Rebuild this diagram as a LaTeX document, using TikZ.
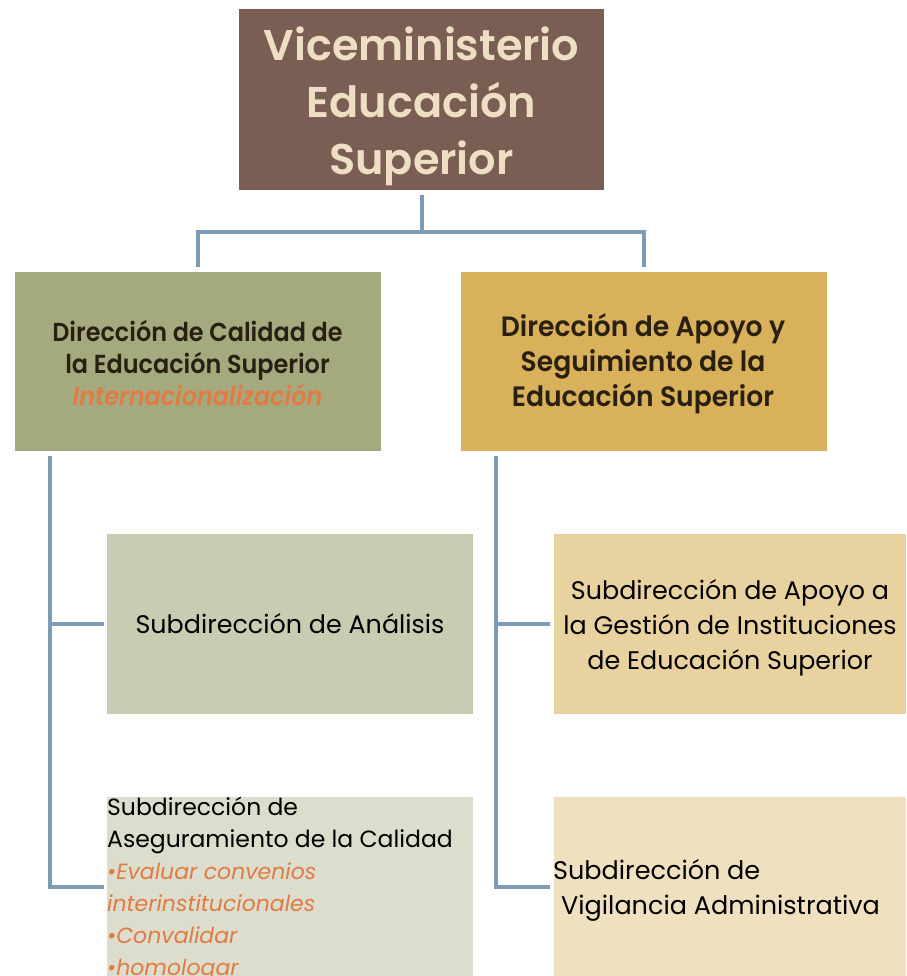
\documentclass[tikz,border=0pt]{standalone}
\usepackage{fontspec}
\setmainfont{Poppins}
\newfontfamily\condboldL[FakeStretch=0.92]{Poppins SemiBold}
\newfontfamily\condboldR[FakeStretch=0.95]{Poppins SemiBold}
\newfontfamily\titlefont{Poppins SemiBold}
\newfontfamily\lightfont{Poppins}
\definecolor{vmfill}{HTML}{7B5E53}
\definecolor{titletxt}{HTML}{EEDFC4}
\definecolor{dcfill}{HTML}{A5AA7E}
\definecolor{dafill}{HTML}{D8B15A}
\definecolor{safill}{HTML}{C9CCB0}
\definecolor{sgfill}{HTML}{DCDDCC}
\definecolor{spfill}{HTML}{E8D3A0}
\definecolor{svfill}{HTML}{EFE1C0}
\definecolor{connc}{HTML}{7E9BB6}
\definecolor{orangetxt}{HTML}{E07B45}
\definecolor{darktxt}{HTML}{2A2012}
\begin{document}
\begin{tikzpicture}[x=1pt,y=-1pt,
  box/.style={draw=none, inner sep=0pt, outer sep=0pt, minimum width=366pt, minimum height=180pt},
  conn/.style={draw=connc, line width=4pt},
  dirtxt/.style={text=darktxt, align=center, font=\condboldL\fontsize{26}{32}\selectfont},
  subtxt/.style={text=black, align=center, font=\lightfont\fontsize{25.4}{35}\selectfont}
]
\useasboundingbox (0,0) rectangle (906,976);
\fill[white] (0,0) rectangle (906,976);

% boxes
\node[box, fill=vmfill, minimum width=365pt, minimum height=181pt] (vm) at (421.5,99.5) {};
\node[box, fill=dcfill, minimum height=179pt] (dc) at (197.5,361.5) {};
\node[box, fill=dafill, minimum height=179pt] (da) at (643.5,361.5) {};
\node[box, fill=safill] (sa) at (290,624) {};
\node[box, fill=sgfill] (sg) at (290,887) {};
\node[box, fill=spfill, minimum width=352pt] (sp) at (730,624) {};
\node[box, fill=svfill, minimum width=352pt] (sv) at (730,887) {};

% texts
\node[text=titletxt, align=center, inner sep=0pt,
  font=\titlefont\fontsize{43}{57}\selectfont] (vmt) at (421.5,106.5) {Viceministerio\\Educación\\Superior};
\node[dirtxt] (dct) at (197.5,363) {Dirección de Calidad de\\la Educación Superior\\{\color{orangetxt}\itshape Internacionalización}};
\node[dirtxt, font=\condboldR\fontsize{28}{35}\selectfont] (dat) at (643,364) {Dirección de Apoyo y\\Seguimiento de la\\Educación Superior};
\node[subtxt] (sat) at (290,624) {Subdirección de Análisis};
\node[subtxt] (spt) at (730,628) {Subdirección de Apoyo a\\la Gestión de Instituciones\\de Educación Superior};
\node[anchor=north west, inner sep=0pt, align=left, text=black,
  font=\lightfont\fontsize{23.5}{32}\selectfont] (sgt) at (sg.north west)
  {Subdirección de\\Aseguramiento de la Calidad\\
   {\fontsize{22}{32}\selectfont\color{orangetxt}\itshape •Evaluar convenios}\\
   {\fontsize{22}{32}\selectfont\color{orangetxt}\itshape interinstitucionales}\\
   {\fontsize{22}{32}\selectfont\color{orangetxt}\itshape •Convalidar}\\
   {\fontsize{22}{32}\selectfont\color{orangetxt}\itshape •homologar}};
\node[anchor=west, inner sep=0pt, align=left, text=black,
  font=\lightfont\fontsize{25.5}{35}\selectfont] (svt) at ([xshift=-1pt,yshift=-3pt]sv.west)
  {Subdirección de\\\hspace*{8pt}Vigilancia Administrativa};

% connectors
\draw[conn] ([yshift=-5pt]vm.south) -- ++(0,37) coordinate (hub) -| ([yshift=5pt]dc.north);
\draw[conn] (hub) -| ([yshift=5pt]da.north);
\draw[conn] ([xshift=35pt,yshift=-5pt]dc.south west) |- ([xshift=-3pt]sg.west);
\draw[conn] ([xshift=35pt,yshift=-5pt]dc.south west) |- ([xshift=-3pt]sa.west);
\draw[conn] ([xshift=35pt,yshift=-5pt]da.south west) |- ([xshift=-4pt]sv.west);
\draw[conn] ([xshift=35pt,yshift=-5pt]da.south west) |- ([xshift=-4pt]sp.west);
\end{tikzpicture}
\end{document}
